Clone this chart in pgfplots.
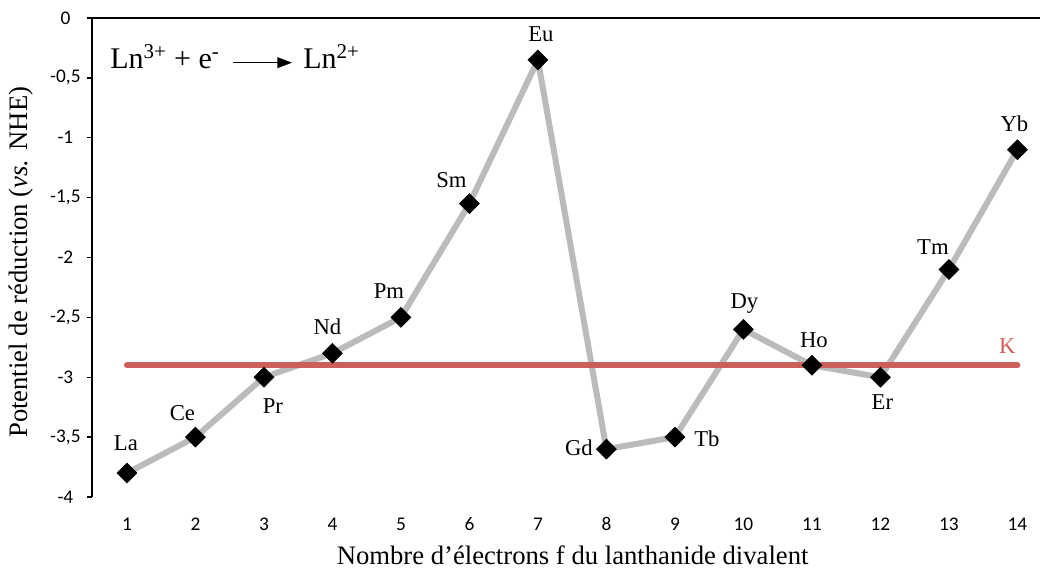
\documentclass[border=0pt]{standalone}
\usepackage{fontspec}
\setmainfont{Liberation Serif}
\newfontfamily\calibri{Carlito}
\usepackage{pgfplots}
\pgfplotsset{compat=1.18}
\usepackage{pgfplotstable}
\usetikzlibrary{arrows.meta}
\definecolor{lineGray}{RGB}{187,187,187}
\definecolor{kRed}{RGB}{205,95,90}

\pgfplotstableread{
x y lab dx dy
1 -3.80 La -0.75 17.25
2 -3.50 Ce -9.75 12.75
3 -3.00 Pr 6.75 -27
4 -2.80 Nd -3.75 14.25
5 -2.50 Pm -9 14.25
6 -1.55 Sm -13.5 12
7 -0.35 Eu 2.25 13.5
8 -3.60 Gd -20.6 -4.5
9 -3.50 Tb 24 -6.75
10 -2.60 Dy 0.75 15.75
11 -2.90 Ho 1.5 13.5
12 -3.00 Er 1.5 -24
13 -2.10 Tm -12 11.25
14 -1.10 Yb -2.25 13.5
}\lndata

\begin{document}
\begin{tikzpicture}
\path[use as bounding box] (0,0) rectangle (780pt,426.75pt);
\begin{axis}[
  at={(69pt,54pt)}, anchor=south west,
  scale only axis, width=711pt, height=359.25pt,
  xmin=0.49, xmax=14.33, ymin=-4, ymax=0,
  clip=false,
  axis x line*=bottom, axis y line*=left,
  x axis line style={draw=none},
  y axis line style={black, line width=1pt, -},
  tick align=outside,
  major tick length=3.75pt,
  xtick={1,...,14},
  ytick={-4,-3.5,...,0},
  xtick style={draw=none},
  ytick style={black, line width=1pt},
  /pgf/number format/.cd, use comma, assume math mode=true, /pgfplots/.cd,
  yticklabel style={font=\calibri\fontsize{14.5}{16}\selectfont, anchor=center, inner sep=0pt},
  xticklabel style={font=\calibri\fontsize{14.5}{16}\selectfont, anchor=north, inner sep=0pt},
  yticklabel shift=16.2pt,
  xticklabel shift=11.6pt,
  xlabel={Nombre d’électrons f du lanthanide divalent},
  ylabel={Potentiel de réduction (\textit{vs.} NHE)},
  every axis x label/.style={at={(axis description cs:0.507,-0.140)}, anchor=base, font=\fontsize{20}{24}\selectfont},
  every axis y label/.style={at={(axis description cs:-0.0749,0.49)}, anchor=center, rotate=90, font=\fontsize{20}{24}\selectfont},
]
\draw[black, line width=1pt] (rel axis cs:0,1) -- (rel axis cs:1,1);

\addplot[lineGray, line width=4.5pt, line join=round, no marks] table[x=x, y=y] {\lndata};

\addplot[kRed, line width=4.5pt, line cap=round, no marks] coordinates {(1,-2.9) (14,-2.9)};

\addplot[only marks, mark=square*, mark size=5.3pt,
  mark options={fill=black, draw=black, line width=0.4pt, rotate=45},
  nodes near coords, point meta=explicit symbolic,
  visualization depends on={\thisrow{dx} \as \labdx},
  visualization depends on={\thisrow{dy} \as \labdy},
  every node near coord/.append style={font=\fontsize{17}{20}\selectfont, text=black, anchor=base, xshift=\labdx*1pt, yshift=\labdy*1pt, inner sep=0pt, rotate=0},
] table[x=x, y=y, meta=lab] {\lndata};

\node[text=kRed, anchor=base, inner sep=0pt, font=\fontsize{17}{20}\selectfont, yshift=9pt] at (axis cs:13.854,-2.9) {K};

\node[anchor=base west, inner sep=0pt, font=\fontsize{22.5}{26}\selectfont] at (axis description cs:0.019,0.894) {Ln\textsuperscript{3+} + e\textsuperscript{-}};
\draw[black, line width=1.2pt, -{Triangle[length=11pt, width=8pt]}] (axis description cs:0.1487,0.9067) -- (axis description cs:0.211,0.9067);
\node[anchor=base west, inner sep=0pt, font=\fontsize{22.5}{26}\selectfont] at (axis description cs:0.2226,0.894) {Ln\textsuperscript{2+}};
\end{axis}
\end{tikzpicture}
\end{document}
